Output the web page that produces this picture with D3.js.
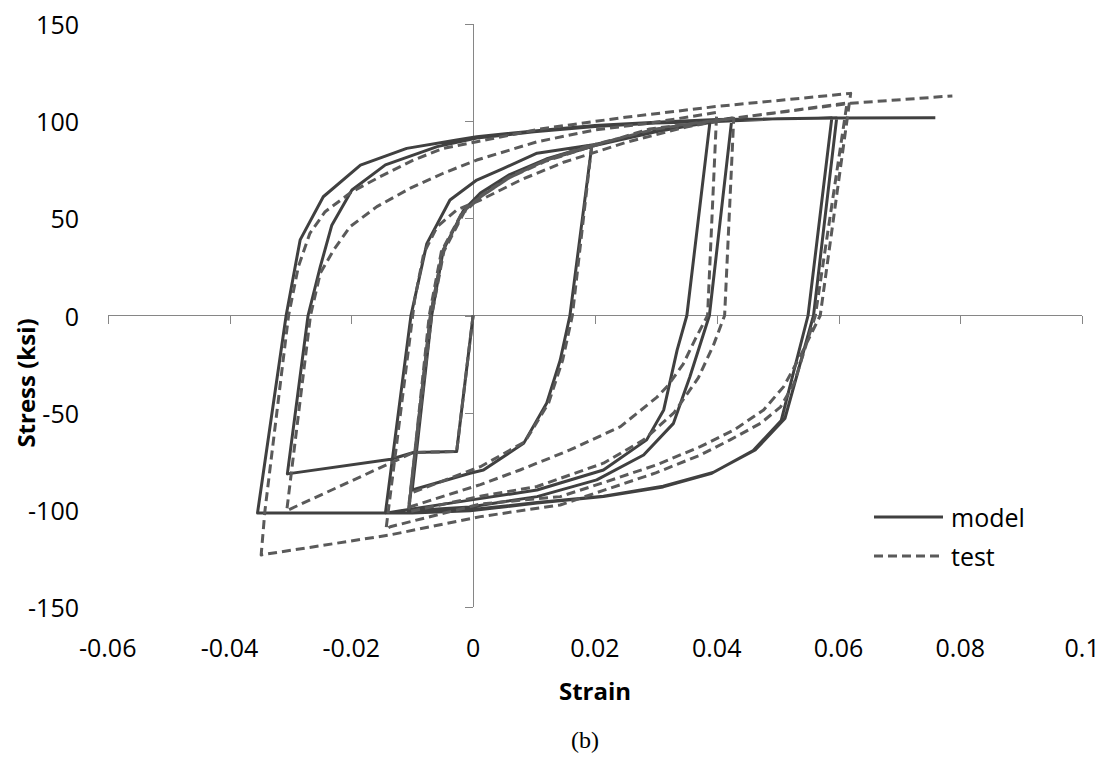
<!DOCTYPE html>
<html>
<head>
<meta charset="utf-8">
<style>

body {
  margin: 0;
  background: #ffffff;
  width: 1112px;
  height: 759px;
  overflow: hidden;
}

.axis line, .axis path {
  stroke: #868686;
  stroke-width: 1;
  shape-rendering: crispEdges;
}

.tick-label {
  font-family: "Open Sans", sans-serif;
  font-size: 25px;
  fill: #000;
}

.title {
  font-family: "Open Sans", sans-serif;
  font-size: 24px;
  font-weight: bold;
  fill: #000;
}

.model {
  fill: none;
  stroke: #404040;
  stroke-width: 3;
  stroke-linejoin: round;
}

.test {
  fill: none;
  stroke: #5a5a5a;
  stroke-width: 3;
  stroke-linejoin: round;
  stroke-dasharray: 9,5;
}

</style>
</head>
<body>
<svg width="1112" height="759"></svg>
<script src="https://d3js.org/d3.v7.min.js"></script>
<script>

// axis ticks
var xTicks = [-0.06, -0.04, -0.02, 0, 0.02, 0.04, 0.06, 0.08, 0.1];
var yTicks = [-150, -100, -50, 0, 50, 100, 150];

// model (solid) strain / stress
var modelStrain = [0, -0.0027, -0.0098, -0.0135, -0.0305,
  -0.0271, -0.0251, -0.0232, -0.0199, -0.0144, -0.0059, 0.0006, 0.0100, 0.0200, 0.0300, 0.0389,
  0.0351, 0.0335, 0.0313, 0.0285, 0.0214, 0.0105, -0.0005, -0.0100, -0.0144,
  -0.0102, -0.0076, -0.0038, 0.0006, 0.0050, 0.0105, 0.0195,
  0.0159, 0.0143, 0.0121, 0.0083, 0.0017, -0.0005, -0.0100,
  -0.0068, -0.0049, -0.0016, 0.0012, 0.0060, 0.0120, 0.0200, 0.0300, 0.0425,
  0.0388, 0.0356, 0.0329, 0.0280, 0.0203, 0.0105, -0.0005, -0.0106,
  -0.0070, -0.0050, -0.0016, 0.0012, 0.0060, 0.0120, 0.0200, 0.0300, 0.0400, 0.0500, 0.0589,
  0.0550, 0.0506, 0.0460, 0.0392, 0.0312, 0.0214, 0.0105, -0.0005, -0.0100, -0.0354,
  -0.0307, -0.0284, -0.0246, -0.0185, -0.0109, -0.0027, 0.0006, 0.0100, 0.0200, 0.0300, 0.0400, 0.0597,
  0.0559, 0.0512, 0.0464, 0.0394, 0.0312, 0.0214, 0.0105, -0.0005, -0.0106,
  -0.0070, -0.0050, -0.0016, 0.0012, 0.0060, 0.0120, 0.0200, 0.0300, 0.0400, 0.0500, 0.0600, 0.0759];
var modelStress = [0, -70, -70.5, -74, -81.5,
  0, 25, 46.5, 64.6, 77.5, 86.9, 91.3, 94.5, 97.3, 99, 99.8,
  0, -17.8, -48.6, -64, -79.5, -89.8, -95, -99.5, -101.7,
  0, 37, 59.4, 69.7, 75.7, 83.5, 87.7,
  0, -23, -45, -65.8, -79.5, -81.2, -89.8,
  0, 33.7, 54, 62.9, 72, 80, 87.5, 94.5, 101.6,
  0, -31.5, -55.5, -71.8, -84.6, -93.2, -98.5, -100.5,
  0, 33, 54, 63, 72.5, 80.5, 88, 95, 99.8, 101.2, 101.6,
  0, -54, -69.5, -81.2, -88.2, -93.2, -96.5, -100.5, -101.6, -101.6,
  0, 38.9, 61.1, 77.4, 86, 90.3, 92, 95, 97.8, 99.5, 100.8, 101.6,
  0, -53, -69, -80.8, -87.8, -93, -96.2, -100, -101.2,
  0, 33, 54, 63, 72.5, 80.5, 88, 95, 99.8, 101.2, 101.6, 101.8];

// test (dashed) strain / stress
var testStrain = [0, -0.0027, -0.0098, -0.0306,
  -0.0267, -0.0251, -0.0229, -0.0202, -0.0158, -0.0103, -0.0049, 0.0006, 0.0105, 0.0200, 0.0290, 0.0400,
  0.0385, 0.0365, 0.0345, 0.0320, 0.0302, 0.0242, 0.0159, 0.0077, 0.0012, -0.0103, -0.0106,
  -0.0070, -0.0050, -0.0016, 0.0012, 0.0060, 0.0120, 0.0195,
  0.0163, 0.0147, 0.0124, 0.0085, 0.0012, -0.0103,
  -0.0068, -0.0048, -0.0015, 0.0012, 0.0060, 0.0120, 0.0200, 0.0290, 0.0428,
  0.0413, 0.0395, 0.0370, 0.0330, 0.0280, 0.0214, 0.0105, 0.0012, -0.0106,
  -0.0072, -0.0052, -0.0018, 0.0012, 0.0060, 0.0120, 0.0200, 0.0300, 0.0428, 0.0614,
  0.0562, 0.0527, 0.0505, 0.0472, 0.0422, 0.0373, 0.0300, 0.0214, 0.0143, 0.0012, -0.0138, -0.0348,
  -0.0342, -0.0303, -0.0287, -0.0268, -0.0243, -0.0199, -0.0153, -0.0098, -0.0049, 0.0006, 0.0110, 0.0250, 0.0398, 0.0620,
  0.0570, 0.0537, 0.0510, 0.0477, 0.0428, 0.0373, 0.0300, 0.0214, 0.0143, 0.0012, -0.0136, -0.0143,
  -0.0096, -0.0081, -0.0059, -0.0027, 0.0012, 0.0080, 0.0150, 0.0250, 0.0350, 0.0428, 0.0620, 0.0787];
var testStress = [0, -70, -70.5, -100.4,
  0, 21.7, 33.7, 45.7, 56, 65.5, 73.2, 80, 89.4, 95.5, 99, 104.5,
  0, -12, -25, -36, -42, -57.2, -69.2, -79.5, -87, -98.4, -99,
  0, 33, 53, 61.5, 71.5, 80, 88,
  0, -23, -45, -65, -77.8, -91.5,
  0, 33, 53, 61, 71, 79.5, 87.5, 96, 101.5,
  0, -15, -32, -50, -64, -76, -88, -93, -101,
  0, 33, 53, 61, 71, 80, 88, 96, 101.5, 109.3,
  0, -35, -47, -55.5, -64, -71.8, -81, -90, -97.5, -103.5, -113, -123.2,
  -101, 0, 25, 42.3, 53.4, 63.7, 71.4, 80, 86, 89.4, 96, 102, 107.5, 114.3,
  0, -21, -36.6, -48.6, -59, -67.5, -77, -86, -93.2, -97, -108.7, -110,
  8, 32, 45.7, 54.3, 59.4, 70, 79, 89, 97, 101.5, 109.2, 113];

var seriesNames = ["model", "test"];

var svg = d3.select("svg");

var x = d3.scaleLinear().domain([-0.06, 0.1]).range([107.7, 1082.1]),
    y = d3.scaleLinear().domain([-150, 150]).range([607, 24]);

// axes cross at zero, labels sit at the low end like Excel
var xAxis = d3.axisBottom(x).tickValues(xTicks).tickSize(8).tickFormat("");
var yAxis = d3.axisLeft(y).tickValues(yTicks).tickSize(8).tickFormat("");

svg.append("g")
    .attr("class", "axis")
    .attr("transform", "translate(0," + y(0) + ")")
    .call(xAxis)
    .call(function(g) { g.select(".domain").attr("d", "M" + x(-0.06) + ",0H" + x(0.1)); });

svg.append("g")
    .attr("class", "axis")
    .attr("transform", "translate(" + x(0) + ",0)")
    .call(yAxis)
    .call(function(g) { g.select(".domain").attr("d", "M0," + y(150) + "V" + y(-150)); });

svg.append("g").selectAll("text")
    .data(xTicks)
    .enter().append("text")
    .attr("class", "tick-label")
    .attr("x", function(d) { return x(d); })
    .attr("y", 647)
    .attr("text-anchor", "middle")
    .attr("dominant-baseline", "central")
    .text(function(d) { return String(d); });

svg.append("g").selectAll("text")
    .data(yTicks)
    .enter().append("text")
    .attr("class", "tick-label")
    .attr("x", 79)
    .attr("y", function(d) { return y(d); })
    .attr("text-anchor", "end")
    .attr("dominant-baseline", "central")
    .text(function(d) { return String(d); });

var line = d3.line()
    .x(function(d) { return x(d[0]); })
    .y(function(d) { return y(d[1]); });

var modelData = d3.zip(modelStrain, modelStress),
    testData = d3.zip(testStrain, testStress);

svg.append("path")
    .datum(modelData)
    .attr("class", "model")
    .attr("d", line);

svg.append("path")
    .datum(testData)
    .attr("class", "test")
    .attr("d", line);

// titles
svg.append("text")
    .attr("class", "title")
    .attr("x", 595)
    .attr("y", 690)
    .attr("text-anchor", "middle")
    .attr("dominant-baseline", "central")
    .text("Strain");

svg.append("text")
    .attr("class", "title")
    .attr("transform", "translate(25,383) rotate(-90)")
    .attr("text-anchor", "middle")
    .attr("dominant-baseline", "central")
    .text("Stress (ksi)");

svg.append("text")
    .attr("x", 585)
    .attr("y", 740)
    .attr("text-anchor", "middle")
    .attr("dominant-baseline", "central")
    .style("font-family", "'Liberation Serif', serif")
    .style("font-size", "24px")
    .text("(b)");

// legend
var legend = svg.append("g").selectAll("g")
    .data(seriesNames)
    .enter().append("g")
    .attr("transform", function(d, i) { return "translate(874," + (517 + i * 39) + ")"; });

legend.append("line")
    .attr("class", function(d) { return d; })
    .attr("x1", 0)
    .attr("x2", 69);

legend.append("text")
    .attr("class", "tick-label")
    .attr("x", 77)
    .attr("dominant-baseline", "central")
    .text(function(d) { return d; });

</script>
</body>
</html>
